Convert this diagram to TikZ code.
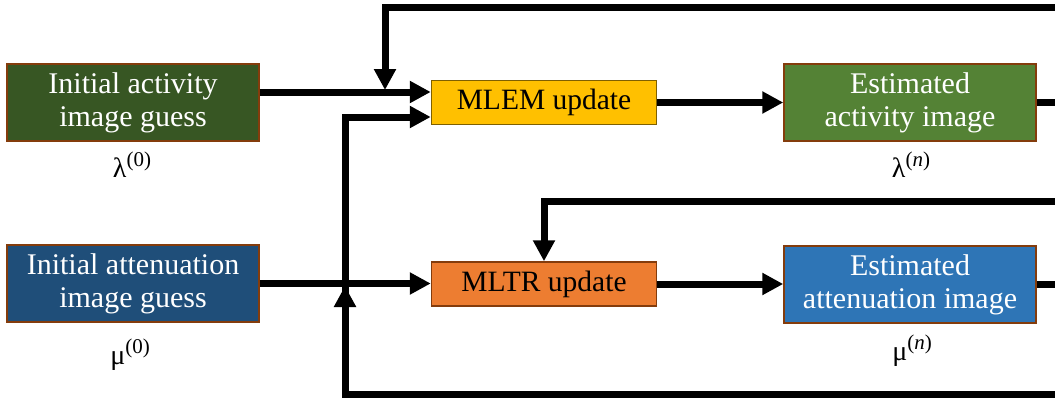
\documentclass[tikz,border=0pt]{standalone}
\usepackage{fontspec}
\setmainfont{Liberation Serif}
\usetikzlibrary{arrows.meta}
\definecolor{iagreen}{HTML}{375623}
\definecolor{eagreen}{HTML}{548235}
\definecolor{mlemc}{HTML}{FFC000}
\definecolor{mlemb}{HTML}{7F6000}
\definecolor{mltrc}{HTML}{ED7D31}
\definecolor{brownb}{HTML}{843C0C}
\definecolor{iablue}{HTML}{1F4E79}
\definecolor{eablue}{HTML}{2E75B6}
\newcommand{\supx}[1]{\raisebox{11pt}{\fontsize{21}{23}\selectfont #1}}
\tikzset{
  bigbox/.style={draw=brownb, line width=1.5pt, minimum width=252pt, minimum height=77pt,
    inner sep=0pt, text=white, align=center, font=\fontsize{30}{33}\selectfont},
  updbox/.style={draw=brownb, line width=1.5pt, minimum width=225pt, minimum height=44pt,
    inner sep=0pt, text=black, align=center, font=\fontsize{29.5}{33}\selectfont},
  conn/.style={line width=7pt},
  arr/.style={line width=7pt, -{Triangle[length=21pt,width=21pt]}},
  sym/.style={font=\fontsize{28}{30}\selectfont, inner sep=0pt}
}
\begin{document}
\begin{tikzpicture}[x=1pt, y=-1pt]
\useasboundingbox (0,0) rectangle (1055,399);
% boxes
\node[bigbox, fill=iagreen] (ia) at (133,102.5) {Initial activity\\image guess};
\node[bigbox, fill=iablue] (iat) at (133,283.5) {Initial attenuation\\image guess};
\node[updbox, fill=mlemc, draw=mlemb] (mlem) at (544,102.5) {MLEM update};
\node[updbox, fill=mltrc] (mltr) at (544,284) {MLTR update};
\node[bigbox, fill=eagreen] (ea) at (910,102.5) {Estimated\\activity image};
\node[bigbox, fill=eablue] (eat) at (910,284.5) {Estimated\\attenuation image};
% labels
\node[sym] (l0) at (132,165) {λ\supx{(0)}};
\node[sym] (ln) at (911,165) {λ\supx{(\textit{n})}};
\node[sym] (m0) at (130,355) {μ\supx{(0)}};
\node[sym] (mn) at (912,351) {μ\supx{(\textit{n})}};
% free ends at the right edge
\coordinate (topR) at (1056,7);
\coordinate (midR) at (1056,201);
\coordinate (botR) at (1056,394);
\coordinate (j1) at (385,92);
\coordinate (j2) at (345,284);
\coordinate (bl) at (345,394);
% forward connectors
\draw[arr] ([yshift=10.5pt]ia.east) -- ([yshift=10.5pt]mlem.west);
\draw[arr] (iat.east) -- (iat.east -| mltr.west);
\draw[arr] (mlem.east) -- (ea.west);
\draw[arr] (mltr.east) -- (mltr.east -| eat.west);
\draw[conn] (ea.east) -- (ea.east -| topR);
\draw[conn] (eat.east) -- (eat.east -| topR);
% feedback lambda
\draw[arr] (topR) -| ([yshift=2pt]j1);
\draw[arr] (midR) -| (mltr.north);
% feedback mu
\draw[arr, line join=miter] (botR) -- (bl) -- (345,117) -- (mlem.west |- 0,117);
\draw[arr] (bl) -- ([yshift=-2pt]j2);
\end{tikzpicture}
\end{document}
